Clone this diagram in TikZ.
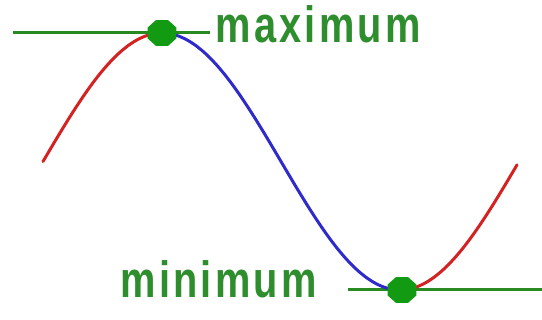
\documentclass[tikz,border=0pt]{standalone}
\usepackage{fontspec}
\setmainfont{Liberation Sans}
\usetikzlibrary{shapes.geometric}
\definecolor{cred}{HTML}{D42222}
\definecolor{cblue}{HTML}{2E2ACC}
\definecolor{cgline}{HTML}{2A8A22}
\definecolor{cgdot}{HTML}{129A12}
\definecolor{cgtext}{HTML}{2E8E2E}
\tikzset{
  curve/.style={line width=3pt, line cap=round, line join=round},
  tangent/.style={cgline, line width=3pt},
  extremum/.style={regular polygon, regular polygon sides=8, fill=cgdot, draw=none,
    minimum size=28pt, inner sep=0pt, xscale=1.12, transform shape},
  label/.style={text=cgtext, font=\bfseries\fontsize{51}{51}\selectfont\addfontfeature{LetterSpace=8}, inner sep=0pt,
    xscale=0.78, transform shape}
}
\begin{document}
\begin{tikzpicture}[x=1pt,y=-1pt]
  \useasboundingbox[fill=white] (0,0) rectangle (542,320);
  % tangent lines
  \coordinate (tl1) at (13,33);
  \coordinate (tl2) at (210,33);
  \coordinate (bl1) at (348,290);
  \coordinate (bl2) at (542,290);
  \draw[tangent] (tl1) -- (tl2);
  \draw[tangent] (bl1) -- (bl2);
  % curve
  \draw[curve, cred, domain=43:162, samples=60] plot (\x, {161.5 - 128.5*sin((\x-43)*0.75630)});
  \draw[curve, cblue, domain=162:400, samples=100] plot (\x, {161.5 - 128.5*sin((\x-43)*0.75630)});
  \draw[curve, cred, domain=400:517, samples=60] plot (\x, {161.5 - 128.5*sin((\x-43)*0.75630)});
  % markers
  \node[extremum] (max) at (162,33) {};
  \node[extremum] (min) at (402,290) {};
  % labels
  \node[label, anchor=base west] (maxlab) at (215.5,43) {maximum};
  \node[label, anchor=base west] (minlab) at (120.5,298) {minimum};
\end{tikzpicture}
\end{document}
